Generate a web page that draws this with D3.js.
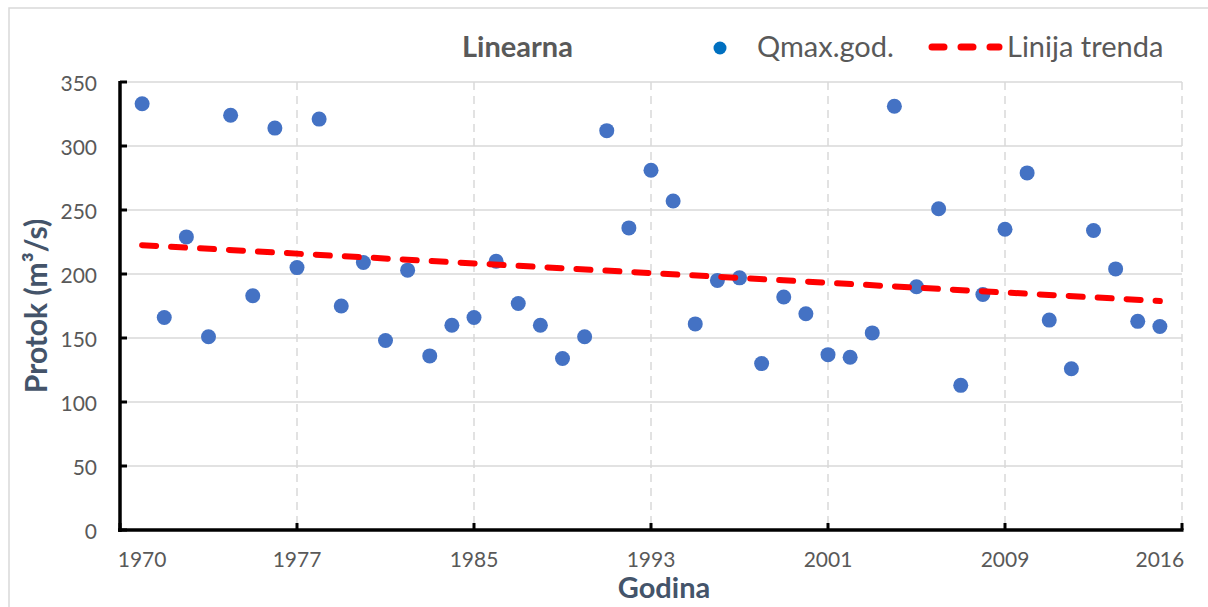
<!DOCTYPE html>
<html>
<head>
<meta charset="utf-8">
<script src="https://cdn.jsdelivr.net/npm/d3@7"></script>
<style>
  html, body { margin: 0; padding: 0; background: #fff; }
  svg { display: block; font-family: Lato, "Open Sans", sans-serif; }
</style>
</head>
<body>
<svg id="chart" width="1208" height="607"></svg>
<script>
// Annual maximum discharge, 1970–2016
const years = d3.range(1970, 2017);
const qmax = [
  333, 166, 229, 151, 324, 183, 314, 205, 321, 175,
  209, 148, 203, 136, 160, 166, 210, 177, 160, 134,
  151, 312, 236, 281, 257, 161, 195, 197, 130, 182,
  169, 137, 135, 154, 331, 190, 251, 113, 184, 235,
  279, 164, 126, 234, 204, 163, 159
];

// Axis ticks and labels
const yTicks = [0, 50, 100, 150, 200, 250, 300, 350];
const xGridYears = [1977, 1985, 1993, 2001, 2009, 2017];
const xTickYears = [1969, 1977, 1985, 1993, 2001, 2009, 2017];
const xLabelYears = [1970, 1977, 1985, 1993, 2001, 2009, 2016];
const xLabels = ["1970", "1977", "1985", "1993", "2001", "2009", "2016"];

const titleText = "Linearna";
const seriesName = "Qmax.god.";
const trendName = "Linija trenda";
const xTitle = "Godina";

const svg = d3.select("#chart");

const x = d3.scaleLinear().domain([1969, 2017]).range([120, 1182]);
const y = d3.scaleLinear().domain([0, 350]).range([530, 82]);

const grey = "#595959";
const titleBlue = "#44546A";

// outer chart frame
svg.append("rect")
  .attr("x", 9).attr("y", 8).attr("width", 1220).attr("height", 620)
  .attr("fill", "none").attr("stroke", "#d9d9d9").attr("stroke-width", 1.5);

// horizontal gridlines
svg.append("g").selectAll("line").data(yTicks.filter(d => d > 0)).join("line")
  .attr("x1", x(1969)).attr("x2", x(2017))
  .attr("y1", d => y(d)).attr("y2", d => y(d))
  .attr("stroke", "#d9d9d9").attr("stroke-width", 1.5);

// vertical dashed gridlines
svg.append("g").selectAll("line").data(xGridYears).join("line")
  .attr("x1", d => x(d)).attr("x2", d => x(d))
  .attr("y1", y(350)).attr("y2", y(0))
  .attr("stroke", "#d9d9d9").attr("stroke-width", 1.5)
  .attr("stroke-dasharray", "8 6");

// y axis
const yAxis = svg.append("g");
yAxis.append("line")
  .attr("x1", x(1969)).attr("x2", x(1969))
  .attr("y1", y(350) - 1).attr("y2", y(0) + 2)
  .attr("stroke", "#000").attr("stroke-width", 3.5);
yAxis.selectAll(".tk").data(yTicks).join("line")
  .attr("x1", x(1969)).attr("x2", x(1969) + 7)
  .attr("y1", d => y(d)).attr("y2", d => y(d))
  .attr("stroke", "#000").attr("stroke-width", 3);
yAxis.selectAll("text").data(yTicks).join("text")
  .attr("x", 97).attr("y", d => y(d))
  .attr("text-anchor", "end").attr("dominant-baseline", "central")
  .attr("fill", grey).attr("font-size", 21)
  .text(d => d);

// x axis
const xAxis = svg.append("g");
xAxis.append("line")
  .attr("x1", x(1969) - 2).attr("x2", x(2017) + 1.5)
  .attr("y1", y(0)).attr("y2", y(0))
  .attr("stroke", "#000").attr("stroke-width", 3.5);
xAxis.selectAll(".tk").data(xTickYears).join("line")
  .attr("x1", d => x(d)).attr("x2", d => x(d))
  .attr("y1", y(0)).attr("y2", y(0) - 7)
  .attr("stroke", "#000").attr("stroke-width", 3);
xAxis.selectAll("text").data(xLabelYears).join("text")
  .attr("x", d => x(d)).attr("y", 567)
  .attr("text-anchor", "middle")
  .attr("fill", grey).attr("font-size", 21)
  .text((d, i) => xLabels[i]);

// linear trend (least squares)
const n = years.length;
const mx = d3.mean(years), my = d3.mean(qmax);
let sxy = 0, sxx = 0;
for (let i = 0; i < n; i++) {
  sxy += (years[i] - mx) * (qmax[i] - my);
  sxx += (years[i] - mx) ** 2;
}
const slope = sxy / sxx, intercept = my - slope * mx;
const trendYears = [years[0], years[n - 1]];

// data points
svg.append("g").selectAll("circle").data(years).join("circle")
  .attr("cx", d => x(d)).attr("cy", (d, i) => y(qmax[i]))
  .attr("r", 7.5).attr("fill", "#4472C4");

svg.append("line")
  .attr("x1", x(trendYears[0])).attr("y1", y(intercept + slope * trendYears[0]))
  .attr("x2", x(trendYears[1])).attr("y2", y(intercept + slope * trendYears[1]))
  .attr("stroke", "#FF0000").attr("stroke-width", 6)
  .attr("stroke-linecap", "round").attr("stroke-dasharray", "14 15");

// axis titles
svg.append("text")
  .attr("transform", "translate(35,306) rotate(-90)")
  .attr("text-anchor", "middle").attr("dominant-baseline", "central")
  .attr("fill", titleBlue).attr("font-size", 30).attr("font-weight", "bold")
  .text("Protok (m³/s)");

svg.append("text")
  .attr("x", 664).attr("y", 598)
  .attr("text-anchor", "middle")
  .attr("fill", titleBlue).attr("font-size", 29).attr("font-weight", "bold")
  .text(xTitle);

// header: title and legend
svg.append("text")
  .attr("x", 462).attr("y", 57)
  .attr("fill", grey).attr("font-size", 29).attr("font-weight", "bold")
  .text(titleText);

svg.append("circle")
  .attr("cx", 720).attr("cy", 48).attr("r", 6.5).attr("fill", "#0070C0");
svg.append("text")
  .attr("x", 757).attr("y", 57)
  .attr("fill", grey).attr("font-size", 29)
  .text(seriesName);

svg.append("line")
  .attr("x1", 932).attr("x2", 999).attr("y1", 47).attr("y2", 47)
  .attr("stroke", "#FF0000").attr("stroke-width", 7)
  .attr("stroke-linecap", "round").attr("stroke-dasharray", "12 17");
svg.append("text")
  .attr("x", 1007).attr("y", 57)
  .attr("fill", grey).attr("font-size", 29)
  .text(trendName);
</script>
</body>
</html>
